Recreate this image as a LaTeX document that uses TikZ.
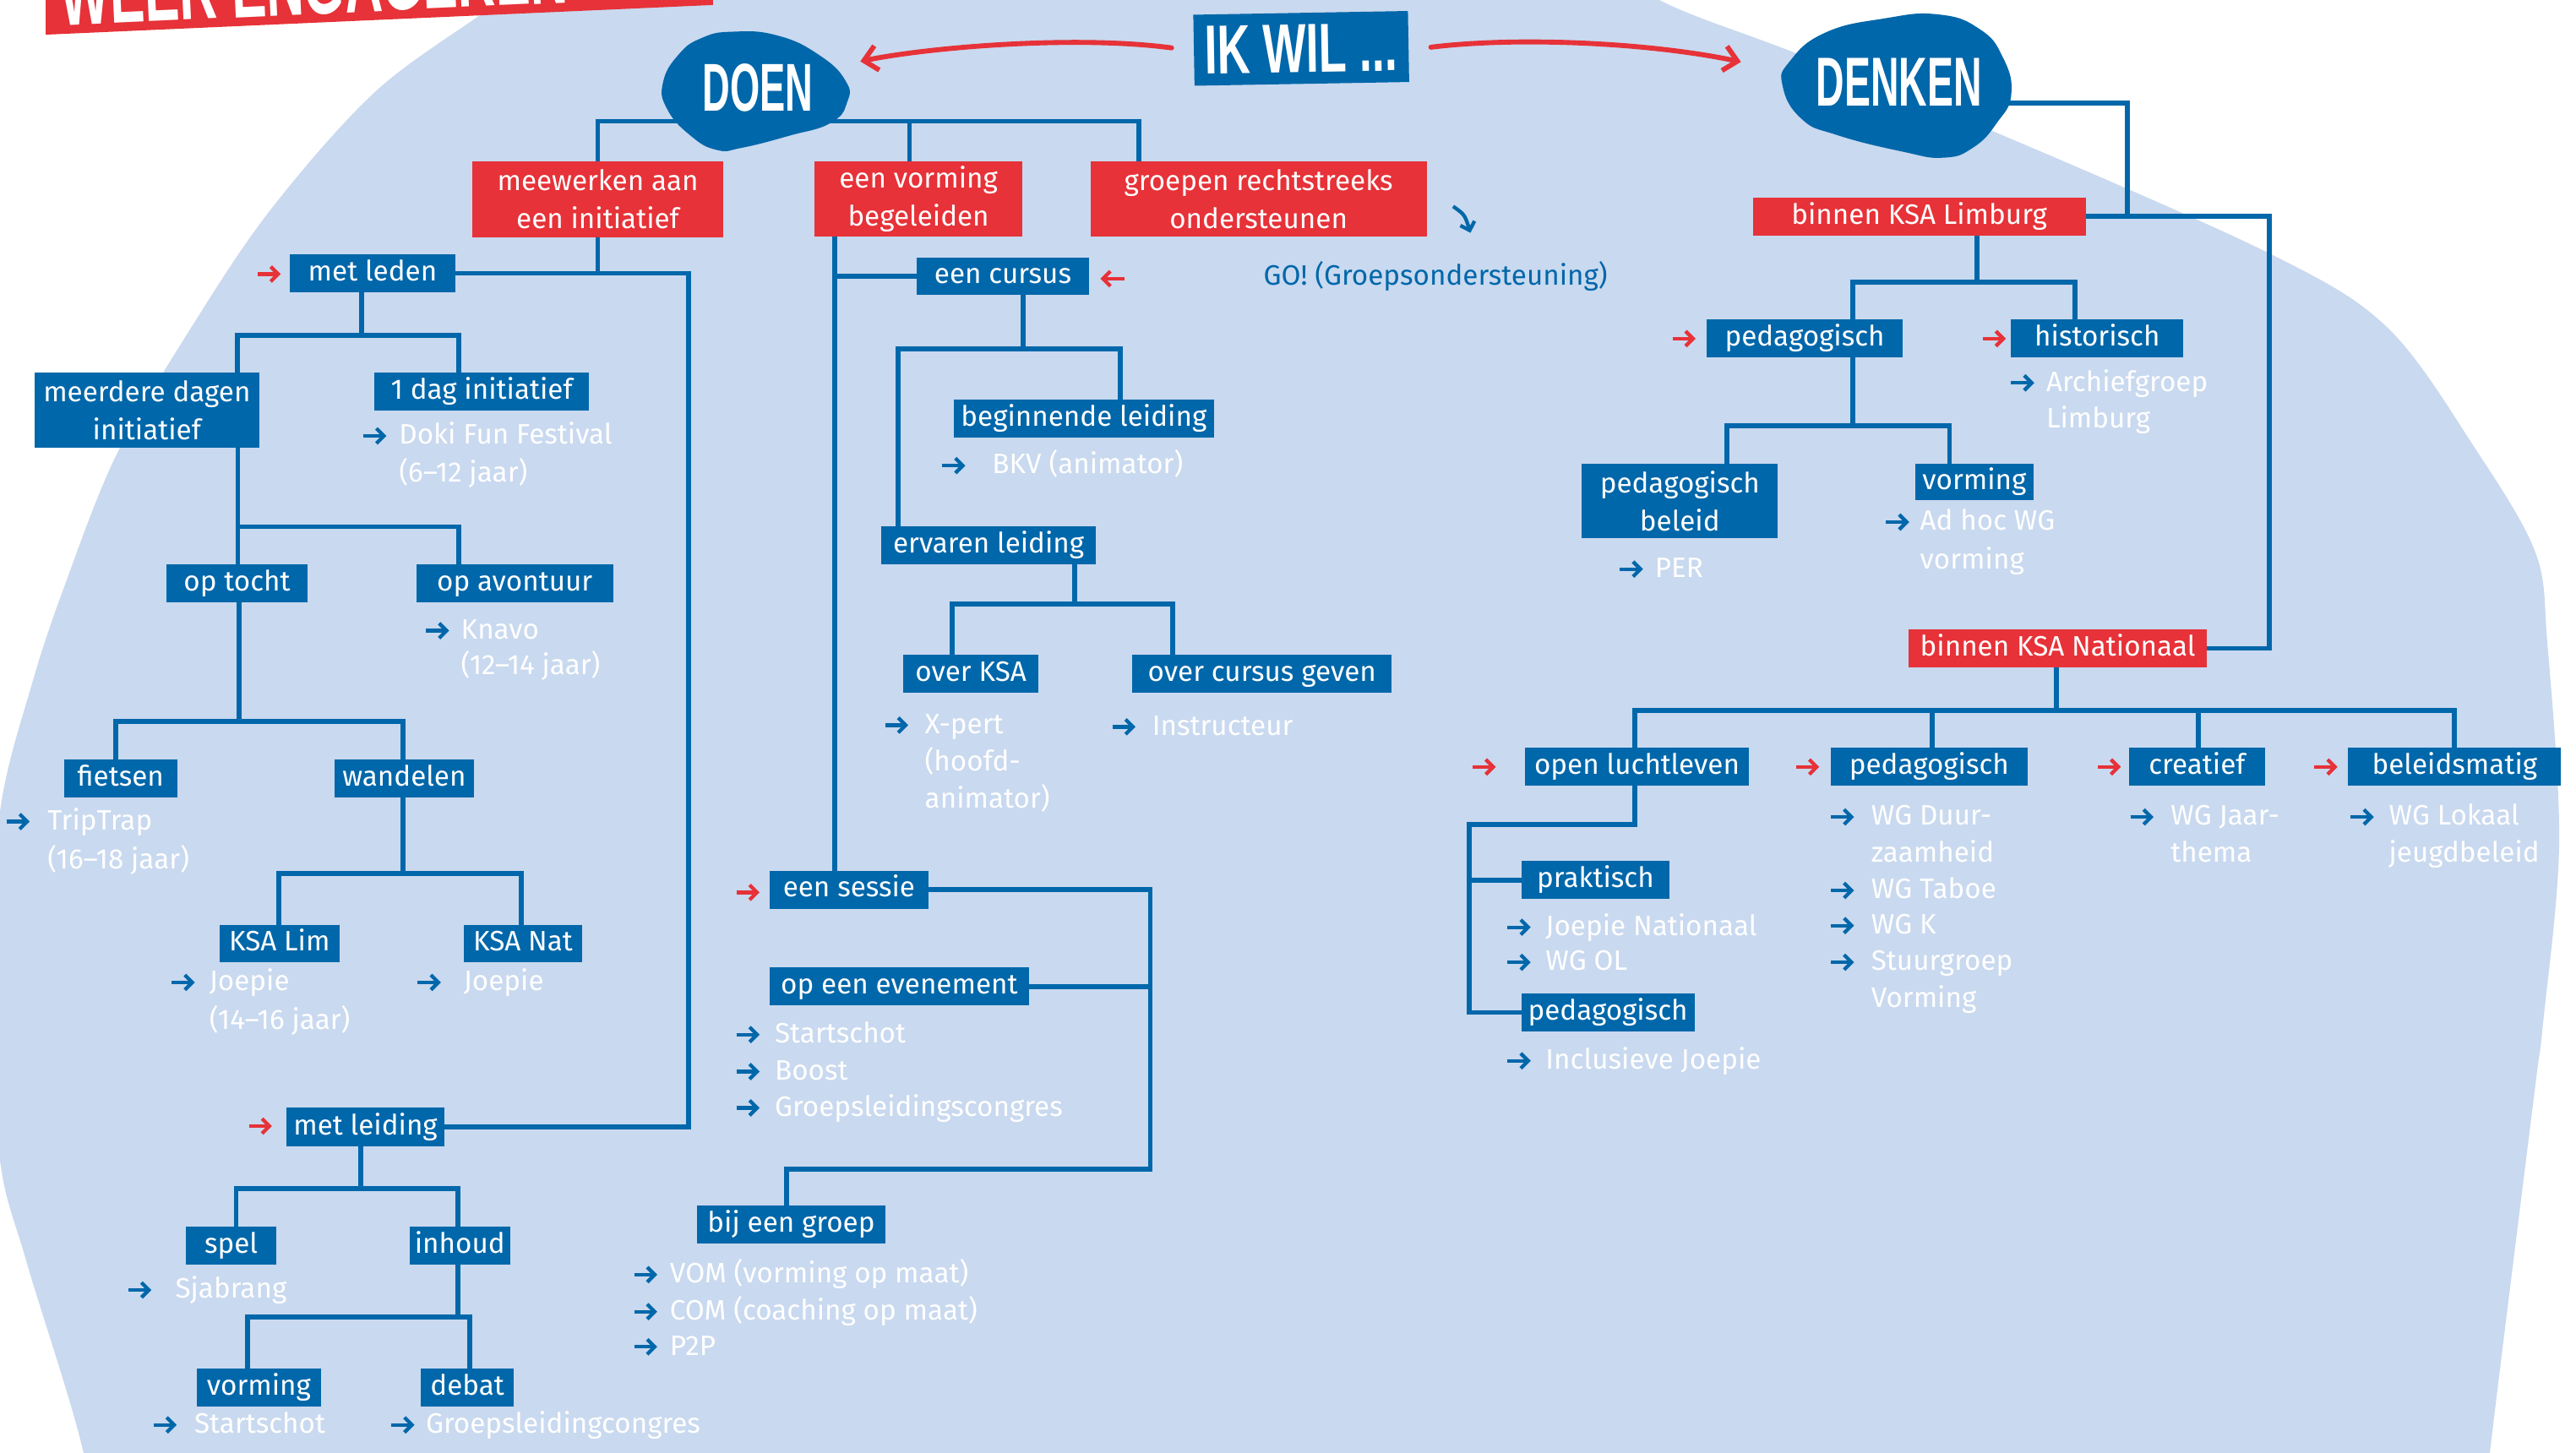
\documentclass[tikz,border=0pt]{standalone}
\usepackage{fontspec}
\usepackage{graphicx}
\setmainfont{Fira Sans}
\newfontfamily\titlefont{Liberation Sans}
\usetikzlibrary{arrows.meta}
\pgfdeclarelayer{bg}
\pgfdeclarelayer{lines}
\pgfsetlayers{bg,lines,main}
\definecolor{ksablue}{HTML}{0067AA}
\definecolor{ksared}{HTML}{E63238}
\definecolor{bgblue}{HTML}{C9D9EF}
\newcommand\labfont{\fontsize{17}{23}\selectfont}
\newcommand\subfont{\fontsize{17}{22}\selectfont}
\newcommand\boxat[7]{\node[#2, minimum width={(#4)-(#3)}, minimum height={(#6)-(#5)}] (#1) at ({((#3)+(#4))/2},{((#5)+(#6))/2}) {#7};}
\newcommand\subtxt[4]{\node[subtext] (#1) at (#2,#3) {#4};}
\newcommand\subarrow[2]{\draw[subarr] (#1,#2) -- ({#1+14},#2);}
\newcommand\redarrow[2]{\draw[redarr] (#1,#2) -- ({#1+14},#2);}
\tikzset{
  boxbase/.style={rectangle, inner sep=0pt, outer sep=0pt, text=white, font=\labfont, align=center},
  bluebox/.style={boxbase, fill=ksablue, text height=12.5pt, text depth=3.5pt},
  bluebox2/.style={boxbase, fill=ksablue},
  redbox1/.style={boxbase, fill=ksared, text height=12.5pt, text depth=3.5pt},
  redbox/.style={boxbase, fill=ksared},
  conn/.style={draw=ksablue, line width=3pt},
  subarr/.style={draw=ksablue, line width=2.2pt, -{Straight Barb[length=4.5pt, width=9pt]}},
  redarr/.style={draw=ksared, line width=2.2pt, -{Straight Barb[length=4.5pt, width=9pt]}},
  subtext/.style={anchor=west, inner sep=0pt, text=white, font=\subfont, text height=13pt, text depth=3pt},
  bigarr/.style={draw=ksared, line width=3pt, line cap=round, -{Straight Barb[length=8pt, width=15pt]}},
  title/.style={text=white, inner sep=0pt, font=\titlefont\bfseries}
}
\begin{document}
\begin{tikzpicture}[x=1pt, y=-1pt]
\useasboundingbox (0,0) rectangle (1560,880);
% ---------- background ----------
\begin{pgfonlayer}{bg}
\fill[white] (0,0) rectangle (1560,880);
\fill[bgblue] plot[smooth cycle, tension=0.55] coordinates {(50.6,880) (16.3,765) (0,702.6) (-5,600) (0,491.7) (19.6,413.4) (39.2,354.6) (70.1,276.3) (114.1,201.1) (163.2,127.9) (228.2,54.7) (303.4,0) (380,-60) (700,-70) (960,-35) (1004.9,0) (1087,32) (1212.6,81.9) (1374.3,153.5) (1445.9,198.5) (1499.6,272.7) (1535.4,334.6) (1542.6,388.9) (1549.8,510) (1540,620) (1534.4,665) (1507.8,880) (1500,960) (700,990) (60,960)};
\end{pgfonlayer}
% ---------- title banner ----------
\begin{scope}
\clip (27.7,-20) -- (27.7,21) -- (432,3) -- (432,-20) -- cycle;
\fill[ksared] (27.7,-20) -- (27.7,21) -- (432,3) -- (432,-20) -- cycle;
\node[title, anchor=base west, rotate=2.6] (banner) at (37,15.5) {\fontsize{56}{56}\selectfont\scalebox{0.565}[1]{WEER ENGAGEREN}};
\end{scope}
% ---------- blobs and headings ----------
\fill[ksablue] plot[smooth cycle, tension=0.8] coordinates {(443.7,19.2) (470.8,21.5) (496,33.3) (512.1,49) (513,62) (503.1,74.4) (478,82.2) (449.3,89.5) (434,90.8) (418,82) (404,66) (401.5,50) (411,33) (425,23)};
\node[title] (doen) at (459,53) {\fontsize{41}{41}\selectfont\scalebox{0.565}[1]{DOEN}};
\fill[ksablue] plot[smooth cycle, tension=0.8] coordinates {(1173.4,8.7) (1198.5,17.4) (1212.9,34.7) (1218,57) (1209.3,74.4) (1195,89.3) (1177,95.5) (1152,91.8) (1112.5,81.8) (1091,72) (1079.5,52) (1083.8,37.2) (1105.3,19.8) (1141,11.2)};
\node[title] (denken) at (1150,49.8) {\fontsize{42}{42}\selectfont\scalebox{0.565}[1]{DENKEN}};
\node[fill=ksablue, rotate=1, minimum width=130, minimum height=43, inner sep=0pt, text=white, font=\titlefont\bfseries] (ikwil) at (788,29.3) {\fontsize{42}{42}\selectfont\scalebox{0.66}[1]{IK WIL ...}};
\coordinate (doentip) at (521,37.2);
\coordinate (denkentip) at (1054.3,37.5);
\draw[bigarr] ([xshift=-13.3]ikwil.west |- 0,29) .. controls (650,21) and (560,29) .. (doentip);
\draw[bigarr] ([xshift=13.3]ikwil.east |- 0,28.6) .. controls (920,22) and (1000,26) .. (denkentip);
% ---------- boxes ----------
\boxat{meew}{redbox}{286}{438}{97.8}{143.8}{meewerken aan\\een initiatief}
\boxat{vorm}{redbox}{493.4}{619}{97.5}{143.5}{een vorming\\begeleiden}
\boxat{grp}{redbox}{660.3}{864}{97.5}{143.5}{groepen rechtstreeks\\ondersteunen}
\boxat{limburg}{redbox1}{1061.5}{1263}{119.8}{142.6}{binnen KSA Limburg}
\boxat{nationaal}{redbox1}{1155.9}{1336.4}{381.1}{404.2}{binnen KSA Nationaal}
\boxat{metleden}{bluebox}{175.5}{275.7}{154}{177}{met leden}
\boxat{meerdere}{bluebox2}{20.9}{157}{225.6}{271}{meerdere dagen\\initiatief}
\boxat{eendag}{bluebox}{226.8}{356.6}{225.6}{248.5}{1 dag initiatief}
\boxat{optocht}{bluebox}{101}{186}{342}{365}{op tocht}
\boxat{opavontuur}{bluebox}{252}{371.4}{342}{365}{op avontuur}
\boxat{fietsen}{bluebox}{38.8}{107.3}{460}{483}{fietsen}
\boxat{wandelen}{bluebox}{202.6}{287}{460}{483}{wandelen}
\boxat{ksalim}{bluebox}{133}{205.5}{560}{583}{KSA Lim}
\boxat{ksanat}{bluebox}{281}{352.4}{560}{583}{KSA Nat}
\boxat{metleiding}{bluebox}{173.6}{269}{671}{694.3}{met leiding}
\boxat{spel}{bluebox}{112.6}{167.4}{743}{765.7}{spel}
\boxat{inhoud}{bluebox}{248}{309}{743}{765.7}{inhoud}
\boxat{vormingA}{bluebox}{119}{194.5}{829}{851.7}{vorming}
\boxat{debat}{bluebox}{255}{311}{829}{851.7}{debat}
\boxat{eencursus}{bluebox}{555}{659.6}{156}{178.8}{een cursus}
\boxat{beginnend}{bluebox}{577.7}{735}{242}{265}{beginnende leiding}
\boxat{ervaren}{bluebox}{533.8}{663.6}{318.8}{341.7}{ervaren leiding}
\boxat{overksa}{bluebox}{546.8}{629}{396.5}{419.3}{over KSA}
\boxat{overcursus}{bluebox}{685.8}{842.7}{396.5}{419.3}{over cursus geven}
\boxat{eensessie}{bluebox}{466.2}{562.1}{527.3}{550.3}{een sessie}
\boxat{evenement}{bluebox}{466.2}{623}{586}{609}{op een evenement}
\boxat{bijgroep}{bluebox}{421.9}{536.4}{730.3}{753}{bij een groep}
\boxat{pedL}{bluebox}{1033.6}{1152.2}{193.5}{216.5}{pedagogisch}
\boxat{hist}{bluebox}{1217.9}{1322.2}{193.5}{216.5}{historisch}
\boxat{pedbeleid}{bluebox2}{958}{1076.6}{280.8}{326.1}{pedagogisch\\beleid}
\boxat{vormL}{bluebox}{1159.8}{1231.5}{280.8}{303}{vorming}
\boxat{ol}{bluebox}{923.5}{1059.1}{452.8}{475.6}{open luchtleven}
\boxat{pedN}{bluebox}{1108.8}{1227.7}{452.8}{475.6}{pedagogisch}
\boxat{creatief}{bluebox}{1289.3}{1371.6}{452.8}{475.6}{creatief}
\boxat{beleid}{bluebox}{1422}{1551}{452.8}{475.6}{beleidsmatig}
\boxat{praktisch}{bluebox}{921.3}{1011.1}{521.5}{544.4}{praktisch}
\boxat{pedOL}{bluebox}{921.3}{1026.1}{601.7}{624.7}{pedagogisch}
% ---------- connectors ----------
\begin{pgfonlayer}{lines}
\draw[conn] (doen.center) |- (meew.north |- 0,73.4) -- (meew.north);
\draw[conn] (doen.center) |- (550.8,73.4) -- (vorm.north -| 550.8,0);
\draw[conn] (doen.center) |- (689.7,73.4) -- (grp.north -| 689.7,0);
\draw[conn] (meew.south) |- (metleden.east);
\draw[conn] (meew.south) |- (417,165.5) -- (metleiding.east -| 417,0) -- (metleiding.east);
\draw[conn] (metleden.south -| 219,0) |- (143.6,203) -- (meerdere.north -| 143.6,0);
\draw[conn] (metleden.south -| 219,0) |- (278,203) -- (eendag.north -| 278,0);
\draw[conn] (meerdere.south -| 144,0) -- (optocht.north -| 144,0);
\draw[conn] (meerdere.south -| 144,0) |- (278,319) -- (opavontuur.north -| 278,0);
\draw[conn] (optocht.south -| 145,0) |- (70.2,437) -- (fietsen.north -| 70.2,0);
\draw[conn] (optocht.south -| 145,0) |- (244,437) -- (wandelen.north -| 244,0);
\draw[conn] (wandelen.south -| 244,0) |- (169,529) -- (ksalim.north -| 169,0);
\draw[conn] (wandelen.south -| 244,0) |- (315.8,529) -- (ksanat.north -| 315.8,0);
\draw[conn] (metleiding.south -| 218.3,0) |- (143,720) -- (spel.north -| 143,0);
\draw[conn] (metleiding.south -| 218.3,0) |- (277.3,720) -- (inhoud.north -| 277.3,0);
\draw[conn] (inhoud.south -| 277.3,0) |- (150,797.5) -- (vormingA.north -| 150,0);
\draw[conn] (inhoud.south -| 277.3,0) |- (284.5,797.5) -- (debat.north -| 284.5,0);
\draw[conn] (vorm.south -| 505.6,0) -- (eensessie.north -| 505.6,0);
\draw[conn] (vorm.south -| 505.6,0) |- (eencursus.west);
\draw[conn] (eencursus.south -| 619.4,0) |- (543.7,211.5) -- (ervaren.north -| 543.7,0);
\draw[conn] (eencursus.south -| 619.4,0) |- (678.3,211.5) -- (beginnend.north -| 678.3,0);
\draw[conn] (ervaren.south -| 650.9,0) |- (576.8,365.8) -- (overksa.north -| 576.8,0);
\draw[conn] (ervaren.south -| 650.9,0) |- (710,365.8) -- (overcursus.north -| 710,0);
\draw[conn] (eensessie.east) -| (evenement.east -| 696.6,0) -- (evenement.east);
\draw[conn] (eensessie.east) -| (696.6,708) -- (476.5,708) -- (bijgroep.north -| 476.5,0);
\draw[conn] (denken.center) |- (1288.2,62.5) -- (1288.2,131.2) -- (limburg.east);
\draw[conn] (limburg.east) -| (nationaal.east -| 1374.2,0) -- (nationaal.east);
\draw[conn] (limburg.south -| 1197.4,0) |- (1122.1,171.1) -- (pedL.north -| 1122.1,0);
\draw[conn] (limburg.south -| 1197.4,0) |- (1256.6,171.1) -- (hist.north -| 1256.6,0);
\draw[conn] (pedL.south -| 1122.1,0) |- (1046,258) -- (pedbeleid.north -| 1046,0);
\draw[conn] (pedL.south -| 1122.1,0) |- (1180.6,258) -- (vormL.north -| 1180.6,0);
\draw[conn] (nationaal.south -| 1245.3,0) |- (990,430.1) -- (ol.north -| 990,0);
\draw[conn] (nationaal.south -| 1245.3,0) |- (1170,430.1) -- (pedN.north -| 1170,0);
\draw[conn] (nationaal.south -| 1245.3,0) |- (1331.1,430.1) -- (creatief.north -| 1331.1,0);
\draw[conn] (nationaal.south -| 1245.3,0) |- (1486.1,430.1) -- (beleid.north -| 1486.1,0);
\draw[conn] (ol.south -| 990,0) |- (889.6,499.5) |- (praktisch.west);
\draw[conn] (ol.south -| 990,0) |- (889.6,499.5) |- (pedOL.west);
\end{pgfonlayer}
% ---------- red arrows ----------
\redarrow{156}{166}
\redarrow{150.7}{682}
\redarrow{446}{540.5}
\draw[redarr] (680.8,168.8) -- (666.4,168.8);
\redarrow{1012.8}{205.1}
\redarrow{1200.7}{205.1}
\redarrow{891.8}{464.5}
\redarrow{1087.7}{464.5}
\redarrow{1270.4}{464.5}
\redarrow{1401.6}{464.5}
% ---------- GO ----------
\draw[subarr] (880,125) .. controls (887,130) .. (890.5,141);
\node[anchor=west, inner sep=0pt, text=ksablue, font=\subfont] (go) at (765,167.4) {GO! (Groepsondersteuning)};
% ---------- sub items ----------
\subarrow{220}{264}\subtxt{t1}{241.5}{264}{Doki Fun Festival}
\subtxt{t1b}{241.5}{287}{(6–12 jaar)}
\subarrow{258}{382}\subtxt{t2}{279}{382}{Knavo}
\subtxt{t2b}{279}{403.6}{(12–14 jaar)}
\subarrow{4}{497.6}\subtxt{t3}{28.7}{497.6}{TripTrap}
\subtxt{t3b}{28.7}{521}{(16–18 jaar)}
\subarrow{104}{595}\subtxt{t4}{126.6}{595}{Joepie}
\subtxt{t4b}{126.6}{618.4}{(14–16 jaar)}
\subarrow{253}{595}\subtxt{t5}{280.6}{595}{Joepie}
\subarrow{77.7}{781.3}\subtxt{t6}{106}{781.3}{Sjabrang}
\subarrow{93}{863}\subtxt{t7}{117.5}{863}{Startschot}
\subarrow{237}{863}\subtxt{t8}{257.7}{863}{Groepsleidingcongres}
\subarrow{570.6}{282}\subtxt{t9}{600.7}{282}{BKV (animator)}
\subarrow{536}{439.2}\subtxt{t10}{559.9}{439.2}{X-pert}
\subtxt{t10b}{559.9}{461.7}{(hoofd-}
\subtxt{t10c}{559.9}{484.3}{animator)}
\subarrow{673.7}{440.2}\subtxt{t11}{697.6}{440.2}{Instructeur}
\subarrow{446}{626.6}\subtxt{t12}{469}{626.6}{Startschot}
\subarrow{446}{649}\subtxt{t13}{469}{649}{Boost}
\subarrow{446}{671}\subtxt{t14}{469}{671}{Groepsleidingscongres}
\subarrow{384}{772}\subtxt{t15}{405.5}{772}{VOM (vorming op maat)}
\subarrow{384}{794.4}\subtxt{t16}{405.5}{794.4}{COM (coaching op maat)}
\subarrow{384}{815.7}\subtxt{t17}{405.5}{815.7}{P2P}
\subarrow{1217.9}{231.9}\subtxt{t18}{1239}{231.9}{Archiefgroep}
\subtxt{t18b}{1239}{254.2}{Limburg}
\subarrow{1142.2}{316.2}\subtxt{t19}{1162.6}{316.2}{Ad hoc WG}
\subtxt{t19b}{1162.6}{339.8}{vorming}
\subarrow{981}{344.7}\subtxt{t20}{1002}{344.7}{PER}
\subarrow{913}{561.6}\subtxt{t21}{935.8}{561.6}{Joepie Nationaal}
\subarrow{913}{582.8}\subtxt{t22}{935.8}{582.8}{WG OL}
\subarrow{913}{642.5}\subtxt{t23}{935.8}{642.5}{Inclusieve Joepie}
\subarrow{1108.8}{494.8}\subtxt{t24}{1133}{494.8}{WG Duur-}
\subtxt{t24b}{1133}{517.1}{zaamheid}
\subarrow{1108.8}{539.3}\subtxt{t25}{1133}{539.3}{WG Taboe}
\subarrow{1108.8}{560.6}\subtxt{t26}{1133}{560.6}{WG K}
\subarrow{1108.8}{582.8}\subtxt{t27}{1133}{582.8}{Stuurgroep}
\subtxt{t27b}{1133}{605}{Vorming}
\subarrow{1290.2}{494.8}\subtxt{t28}{1314.4}{494.8}{WG Jaar-}
\subtxt{t28b}{1314.4}{517.1}{thema}
\subarrow{1423.6}{494.8}\subtxt{t29}{1446.5}{494.8}{WG Lokaal}
\subtxt{t29b}{1446.5}{517.1}{jeugdbeleid}
\end{tikzpicture}
\end{document}
